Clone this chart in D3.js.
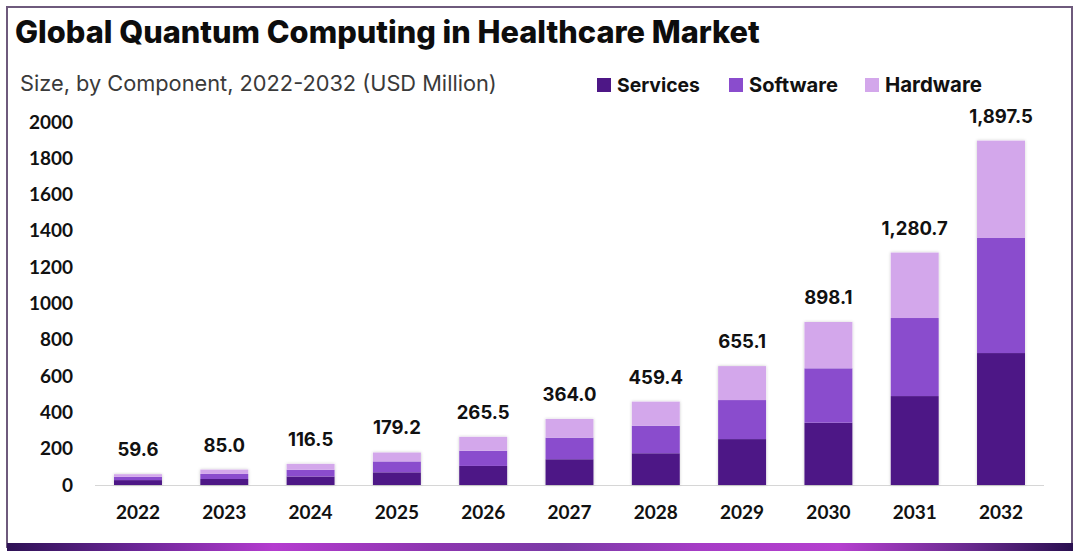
<!DOCTYPE html>
<html>
<head>
<meta charset="utf-8">
<script src="https://cdn.jsdelivr.net/npm/d3@7"></script>
<style>
  html, body { margin: 0; padding: 0; background: #fff; }
  svg { display: block; }
</style>
</head>
<body>
<svg id="chart" width="1080" height="551"></svg>
<script>
const years = ["2022","2023","2024","2025","2026","2027","2028","2029","2030","2031","2032"];
const services = [27, 33, 47, 70, 105, 142, 175, 253, 343, 490, 727];
const software = [18, 28, 37, 60, 84, 119, 152, 215, 300, 430, 634];
const hardware = [14.6, 24, 32.5, 49.2, 76.5, 103, 132.4, 187.1, 255.1, 360.7, 536.5];
const totals = [59.6, 85.0, 116.5, 179.2, 265.5, 364.0, 459.4, 655.1, 898.1, 1280.7, 1897.5];
const seriesNames = ["Services", "Software", "Hardware"];
const yTicks = [0, 200, 400, 600, 800, 1000, 1200, 1400, 1600, 1800, 2000];

const colors = { Services: "#4d1786", Software: "#8a4ccd", Hardware: "#d3a7eb" };

const svg = d3.select("#chart");

// gradient for bottom stripe
const defs = svg.append("defs");
const grad = defs.append("linearGradient").attr("id", "stripe").attr("x1", "0%").attr("x2", "100%");
[["0%", "#2e1255"], ["12%", "#6a2596"], ["25%", "#b43ccf"], ["40%", "#8d36b0"], ["52%", "#7a3aa6"], ["65%", "#a63cc6"], ["78%", "#b540cf"], ["90%", "#6a2a90"], ["100%", "#2a1050"]]
  .forEach(([o, c]) => grad.append("stop").attr("offset", o).attr("stop-color", c));

const shadow = defs.append("filter").attr("id", "shadow").attr("x", "-20%").attr("y", "-20%").attr("width", "140%").attr("height", "140%");
shadow.append("feDropShadow").attr("dx", 0).attr("dy", 0).attr("stdDeviation", 1.6).attr("flood-color", "#000").attr("flood-opacity", 0.22);

// frame
svg.append("rect").attr("x", 7).attr("y", 7).attr("width", 1065).attr("height", 540)
  .attr("fill", "#fff").attr("stroke", "#6e5a7c").attr("stroke-width", 2);
svg.append("rect").attr("x", 7).attr("y", 543).attr("width", 1066).attr("height", 8).attr("fill", "url(#stripe)");

function fit(sel, target) {
  const node = sel.node();
  let fs = parseFloat(sel.attr("font-size"));
  const w = node.getComputedTextLength();
  if (w > 0) sel.attr("font-size", (fs * target / w).toFixed(2));
}

// title
const title = svg.append("text").attr("x", 15).attr("y", 43)
  .attr("font-family", "Inter, 'Open Sans', sans-serif").attr("font-weight", 800)
  .attr("font-size", 28).attr("fill", "#0d0d0d")
  .text("Global Quantum Computing in Healthcare Market");
fit(title, 745);

const sub = svg.append("text").attr("x", 20).attr("y", 91)
  .attr("font-family", "Inter, 'Open Sans', sans-serif").attr("font-weight", 400)
  .attr("font-size", 21).attr("fill", "#3a3a3a")
  .text("Size, by Component, 2022-2032 (USD Million)");
fit(sub, 477);

// legend
const legendX = [597, 729, 865];
const legendW = [83, 89, 97];
seriesNames.forEach((name, i) => {
  svg.append("rect").attr("x", legendX[i]).attr("y", 78).attr("width", 14).attr("height", 14).attr("fill", colors[name]);
  const t = svg.append("text").attr("x", legendX[i] + 20).attr("y", 92)
    .attr("font-family", "Inter, 'Open Sans', sans-serif").attr("font-weight", 700)
    .attr("font-size", 19).attr("fill", "#111").text(name);
  fit(t, legendW[i]);
});

// scales
const x0 = 95, x1 = 1044;
const x = d3.scaleBand().domain(years).range([x0, x1]).paddingInner(0.444).paddingOuter(0.22);
const y = d3.scaleLinear().domain([0, 2000]).range([485, 122]);

// y axis
const yAxis = svg.append("g").attr("transform", `translate(${x0},0)`)
  .call(d3.axisLeft(y).tickValues(yTicks).tickSize(0).tickPadding(22).tickFormat(d3.format("d")));
yAxis.select(".domain").remove();
yAxis.selectAll("text").attr("font-family", "Lato, 'Open Sans', sans-serif").attr("font-weight", 700)
  .attr("font-size", 19).attr("fill", "#111");

// baseline
svg.append("line").attr("x1", x0).attr("x2", x1).attr("y1", y(0) + 0.5).attr("y2", y(0) + 0.5)
  .attr("stroke", "#d6d6d6").attr("stroke-width", 1.2);

// x axis
const xAxis = svg.append("g").attr("transform", `translate(0,${y(0)})`)
  .call(d3.axisBottom(x).tickSize(0).tickPadding(21));
xAxis.select(".domain").remove();
xAxis.selectAll("text").attr("font-family", "Lato, 'Open Sans', sans-serif").attr("font-weight", 700)
  .attr("font-size", 19).attr("fill", "#111");

// stacked bars
const rows = years.map((yr, i) => ({ year: yr, Services: services[i], Software: software[i], Hardware: hardware[i] }));
const stacked = d3.stack().keys(seriesNames)(rows);

const barG = svg.append("g");
barG.selectAll("rect.bg").data(rows).join("rect").attr("class", "bg")
  .attr("x", d => x(d.year)).attr("width", x.bandwidth())
  .attr("y", d => y(d.Services + d.Software + d.Hardware))
  .attr("height", d => y(0) - y(d.Services + d.Software + d.Hardware))
  .attr("fill", "#fff").attr("filter", "url(#shadow)");

stacked.forEach(layer => {
  barG.append("g").selectAll("rect").data(layer).join("rect")
    .attr("x", d => x(d.data.year)).attr("width", x.bandwidth())
    .attr("y", d => y(d[1])).attr("height", d => y(d[0]) - y(d[1]))
    .attr("fill", colors[layer.key]);
});

// total labels
const fmt = d3.format(",.1f");
svg.append("g").selectAll("text").data(years).join("text")
  .attr("x", d => x(d) + x.bandwidth() / 2)
  .attr("y", (d, i) => y(totals[i]) - 18)
  .attr("text-anchor", "middle")
  .attr("font-family", "Inter, 'Open Sans', sans-serif").attr("font-weight", 700)
  .attr("font-size", 18.5).attr("fill", "#111")
  .text((d, i) => fmt(totals[i]));
</script>
</body>
</html>
